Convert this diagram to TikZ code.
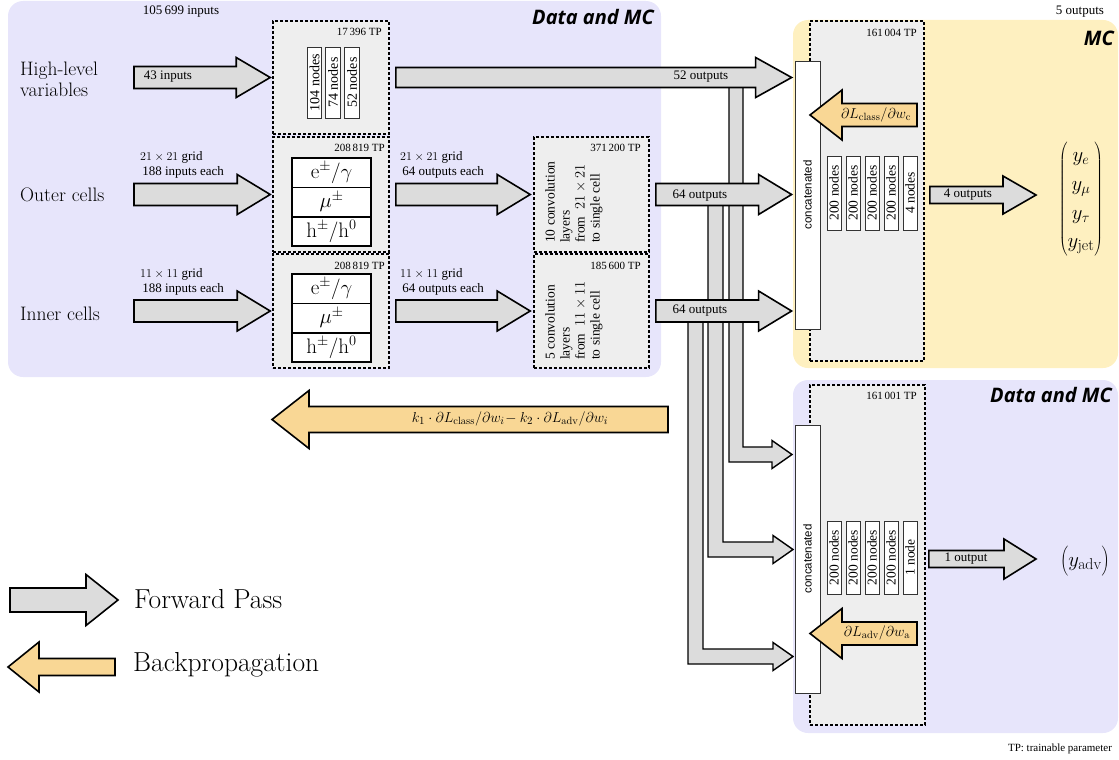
\documentclass[tikz,border=0pt]{standalone}
\usepackage{fontspec}
\newfontfamily\tms{Liberation Serif}
\newfontfamily\lsans{Liberation Sans}
\newfontfamily\osans{Open Sans}
\usetikzlibrary{calc}
\definecolor{bgblue}{HTML}{E7E5FB}
\definecolor{bgyellow}{HTML}{FEF0C0}
\definecolor{fwdgray}{HTML}{DCDCDC}
\definecolor{bwdorange}{HTML}{F9D795}
\definecolor{boxgray}{HTML}{EEEEEE}
% right-pointing block arrow: [opts]{tail}{tip}{shaft half}{head half}{head length}
\newcommand\rblock[6][]{%
  \draw[fwd,#1] let \p1=#2, \p2=#3 in
    (\x1,\y2+#4pt) -- (\x2-#6pt,\y2+#4pt) -- (\x2-#6pt,\y2+#5pt) -- (\x2,\y2)
    -- (\x2-#6pt,\y2-#5pt) -- (\x2-#6pt,\y2-#4pt) -- (\x1,\y2-#4pt) -- cycle;}
% left-pointing block arrow: [opts]{tip}{tail}{shaft half}{head half}{head length}
\newcommand\lblock[6][]{%
  \draw[bwd,#1] let \p1=#2, \p2=#3 in
    (\x1,\y1) -- (\x1+#6pt,\y1+#5pt) -- (\x1+#6pt,\y1+#4pt) -- (\x2,\y1+#4pt)
    -- (\x2,\y1-#4pt) -- (\x1+#6pt,\y1-#4pt) -- (\x1+#6pt,\y1-#5pt) -- cycle;}
\begin{document}
\begin{tikzpicture}[x=1pt,y=-1pt,
  fwd/.style={draw=black,line width=1.6pt,fill=fwdgray,line join=miter},
  elb/.style={draw=black,line width=1.4pt,fill=fwdgray,line join=miter},
  bwd/.style={draw=black,line width=1.6pt,fill=bwdorange,line join=miter},
  dbox/.style={draw=black,line width=1.6pt,dash pattern=on 3pt off 2pt,fill=boxgray,inner sep=0pt},
  bar/.style={draw=black!80,line width=0.8pt,fill=white,inner sep=0pt,rotate=90,font=\tms\fontsize{13.5}{15}\selectfont},
  hbar/.style={bar,font=\tms\fontsize{14}{16}\selectfont,minimum width=71pt,minimum height=14.5pt},
  cbar/.style={bar,minimum width=74pt,minimum height=14pt},
  abar/.style={bar,minimum width=73pt,minimum height=14pt},
  cat/.style={draw=black!80,line width=0.8pt,fill=white,inner sep=0pt,rotate=90,minimum height=25pt,minimum width=268pt,font=\lsans\fontsize{11.5}{13}\selectfont},
  pbox/.style={draw=black,line width=1.6pt,fill=white,minimum width=79pt,minimum height=29.3pt,inner sep=0pt,font=\fontsize{21}{24}\selectfont},
  lbl/.style={font=\tms\fontsize{13}{15}\selectfont,inner sep=0pt},
  tp/.style={font=\tms\fontsize{11}{13}\selectfont,inner sep=0pt,anchor=east},
  big/.style={font=\fontsize{19.5}{21}\selectfont,inner sep=0pt,anchor=west,align=left},
  reg/.style={font=\osans\bfseries\itshape\fontsize{20}{24}\selectfont,inner sep=0pt,anchor=east},
  conv/.style={rotate=90,anchor=north west,align=left,inner sep=0pt,font=\tms\fontsize{13.5}{15}\selectfont},
  legend/.style={font=\fontsize{27.5}{30}\selectfont,anchor=west,inner sep=0pt},
]
\useasboundingbox (0,0) rectangle (1119,760);

% ---------- background regions ----------
\fill[bgblue,rounded corners=15pt] (8,1) rectangle (661,377);
\fill[bgyellow,rounded corners=15pt] (793,20) rectangle (1118,368);
\fill[bgblue,rounded corners=15pt] (793,380) rectangle (1118,733);

% ---------- dashed boxes ----------
\node[dbox,minimum width=116pt,minimum height=113pt] (hlbox) at (331,77.5) {};
\node[dbox,minimum width=116pt,minimum height=115pt] (outbox) at (331,194.5) {};
\node[dbox,minimum width=116pt,minimum height=114pt] (inbox) at (331,311) {};
\node[dbox,minimum width=115pt,minimum height=115pt] (convout) at (591.5,194.5) {};
\node[dbox,minimum width=115pt,minimum height=114pt] (convin) at (591.5,311) {};
\node[dbox,minimum width=114pt,minimum height=340pt] (clsbox) at (867,191) {};
\node[dbox,minimum width=115pt,minimum height=340pt] (advbox) at (867.5,555) {};

% ---------- TP labels ----------
\node[tp] (tphl) at (382,32) {17\,396 TP};
\node[tp] (tpout) at (385,148) {208\,819 TP};
\node[tp] (tpin) at (385,266) {208\,819 TP};
\node[tp] (tpcvo) at (641,148) {371\,200 TP};
\node[tp] (tpcvi) at (641,266) {185\,600 TP};
\node[tp] (tpcls) at (917,33) {161\,004 TP};
\node[tp] (tpadv) at (917,396) {161\,001 TP};

% ---------- high-level node bars ----------
\node[hbar] (h1) at (314.5,82.5) {104 nodes};
\node[hbar] (h2) at (333,82.5) {74 nodes};
\node[hbar] (h3) at (352,82.5) {52 nodes};

% ---------- particle boxes ----------
\node[pbox] (oe) at (331.5,172.7) {$\mathrm{e}^{\pm}/\gamma$};
\node[pbox] (om) at (331.5,202) {$\mu^{\pm}$};
\node[pbox] (oh) at (331.5,231.5) {$\mathrm{h}^{\pm}/\mathrm{h}^{0}$};
\node[pbox] (ie) at (331.5,288.8) {$\mathrm{e}^{\pm}/\gamma$};
\node[pbox] (im) at (331.5,318) {$\mu^{\pm}$};
\node[pbox] (ih) at (331.5,347.5) {$\mathrm{h}^{\pm}/\mathrm{h}^{0}$};

% ---------- convolution texts ----------
\node[conv] (cvo) at (545,243) {10 convolution\\layers\\from~ $21\times 21$\\to single cell};
\node[conv] (cvi) at (545,360) {5 convolution\\layers\\from~ $11\times 11$\\to single cell};

% ---------- concatenation + dense layers ----------
\node[cat] (cat1) at (807.5,195) {concatenated};
\node[cat] (cat2) at (807.5,559) {concatenated};
\node[cbar] (c1) at (834,193) {200 nodes};
\node[cbar] (c2) at (853,193) {200 nodes};
\node[cbar] (c3) at (872,193) {200 nodes};
\node[cbar] (c4) at (891,193) {200 nodes};
\node[cbar] (c5) at (910,193) {4 nodes};
\node[abar] (a1) at (834,557.5) {200 nodes};
\node[abar] (a2) at (853,557.5) {200 nodes};
\node[abar] (a3) at (872,557.5) {200 nodes};
\node[abar] (a4) at (891,557.5) {200 nodes};
\node[abar] (a5) at (910,557.5) {1 node};

% ---------- branch (elbow) arrows to adversary ----------
\draw[elb] (729,80) -- (729,462) -- (772,462) -- (772,468.5) -- (792,454.5) -- (772,440.5) -- (772,447) -- (743,447) -- (743,80);
\draw[elb] (708,200) -- (708,557) -- (773,557) -- (773,563.5) -- (793,549.5) -- (773,535.5) -- (773,542) -- (723,542) -- (723,200);
\draw[elb] (688,316) -- (688,664) -- (773,664) -- (773,670.5) -- (793,656.5) -- (773,642.5) -- (773,649) -- (703,649) -- (703,316);

% ---------- forward arrows ----------
\coordinate (hlin) at (134,77.5);
\coordinate (outin) at (134,194.5);
\coordinate (inin) at (134,311);
\rblock{(hlin)}{([xshift=-2pt]hlbox.west)}{11}{20}{34}
\rblock{(outin)}{([xshift=-2pt]outbox.west)}{11}{20}{33}
\rblock{(inin)}{([xshift=-2pt]inbox.west)}{11}{20}{33}
\rblock{([xshift=6pt]hlbox.east)}{([xshift=-3pt]cat1.north |- hlbox.east)}{10}{20}{36}
\rblock{([xshift=6pt]outbox.east)}{([xshift=-3pt]convout.west)}{11}{20}{33}
\rblock{([xshift=6pt]inbox.east)}{([xshift=-3pt]convin.west)}{11}{20}{33}
\rblock{([xshift=6pt]convout.east)}{([xshift=-3pt]cat1.north |- convout.east)}{11}{20}{33}
\rblock{([xshift=6pt]convin.east)}{([xshift=-3pt]cat1.north |- convin.east)}{11}{20}{33}
\coordinate (ytip) at (1036,195);
\coordinate (advtip) at (1036,559);
\rblock{([xshift=5pt]clsbox.east |- ytip)}{(ytip)}{8.5}{19}{33}
\rblock{([xshift=3pt]advbox.east |- advtip)}{(advtip)}{8.5}{20}{32}

% ---------- backpropagation arrows ----------
\coordinate (bigtip) at (272,419.5);
\coordinate (bigtail) at (668,419.5);
\lblock{(bigtip)}{(bigtail)}{13}{29}{37}
\coordinate (clstip) at (810,115);
\coordinate (clstail) at (917,115);
\lblock{(clstip)}{(clstail)}{11.5}{25}{32}
\coordinate (advbtip) at (810,633.5);
\coordinate (advbtail) at (917,633.5);
\lblock{(advbtip)}{(advbtail)}{11.5}{25}{32}

% ---------- legend ----------
\coordinate (lgfa) at (10,600);
\coordinate (lgfb) at (118,600);
\rblock{(lgfa)}{(lgfb)}{12}{25.5}{32}
\coordinate (lgba) at (8,667);
\coordinate (lgbb) at (115,667);
\lblock{(lgba)}{(lgbb)}{8.5}{25}{31}
\node[legend] (lgf) at (134,599) {Forward Pass};
\node[legend] (lgb) at (133,665) {Backpropagation};

% ---------- texts ----------
\node[lbl] (ninputs) at (181,12) {105\,699 inputs};
\node[lbl] (nout) at (1080,12) {5 outputs};
\node[tp,anchor=center] (tpnote) at (1060,749) {TP: trainable parameter};
\node[reg] (r1) at (654,17) {Data and MC};
\node[reg] (r2) at (1114,38) {MC};
\node[reg] (r3) at (1112,395) {Data and MC};

\node[big] (thl) at (20,79) {High-level\\variables};
\node[big] (tout) at (20,195) {Outer cells};
\node[big] (tin) at (20,314) {Inner cells};

\node[lbl] (l43) at (168,77) {43 inputs};
\node[lbl,anchor=west,align=left] (lgo) at (140,165) {$21\times 21$ grid\\[0pt]\,188 inputs each};
\node[lbl,anchor=west,align=left] (lgi) at (140,282) {$11\times 11$ grid\\[0pt]\,188 inputs each};
\node[lbl,anchor=west,align=left] (lco) at (400,165) {$21\times 21$ grid\\[0pt]\,64 outputs each};
\node[lbl,anchor=west,align=left] (lci) at (400,282) {$11\times 11$ grid\\[0pt]\,64 outputs each};
\node[lbl] (l52) at (701,77) {52 outputs};
\node[lbl] (l64a) at (700,196) {64 outputs};
\node[lbl] (l64b) at (700,311) {64 outputs};
\node[lbl] (l4) at (968,195) {4 outputs};
\node[lbl] (l1) at (966,559) {1 output};

\node[font=\fontsize{15}{17}\selectfont,inner sep=0pt] (mcls) at (876,115) {$\partial L_{\mathrm{class}}/\partial w_{\mathrm{c}}$};
\node[font=\fontsize{15}{17}\selectfont,inner sep=0pt] (madv) at (877,633) {$\partial L_{\mathrm{adv}}/\partial w_{\mathrm{a}}$};
\node[font=\fontsize{15}{17}\selectfont,inner sep=0pt] (mbig) at (510,419) {$k_1\cdot\partial L_{\mathrm{class}}/\partial w_{i}\!-k_2\cdot\partial L_{\mathrm{adv}}/\partial w_{i}$};

\node[font=\fontsize{22.5}{26}\selectfont,inner sep=0pt] (yvec) at (1081,199) {\renewcommand\arraystretch{1.1}$\left(\begin{array}{@{}c@{}} y_e\\ y_\mu\\ y_\tau\\ y_{\mathrm{jet}}\end{array}\right)$};
\node[font=\fontsize{22.5}{26}\selectfont,inner sep=0pt] (yadv) at (1085,561) {$\left(\vphantom{\rule{0pt}{15pt}\rule[-10pt]{0pt}{1pt}}y_{\mathrm{adv}}\right)$};
\end{tikzpicture}
\end{document}
